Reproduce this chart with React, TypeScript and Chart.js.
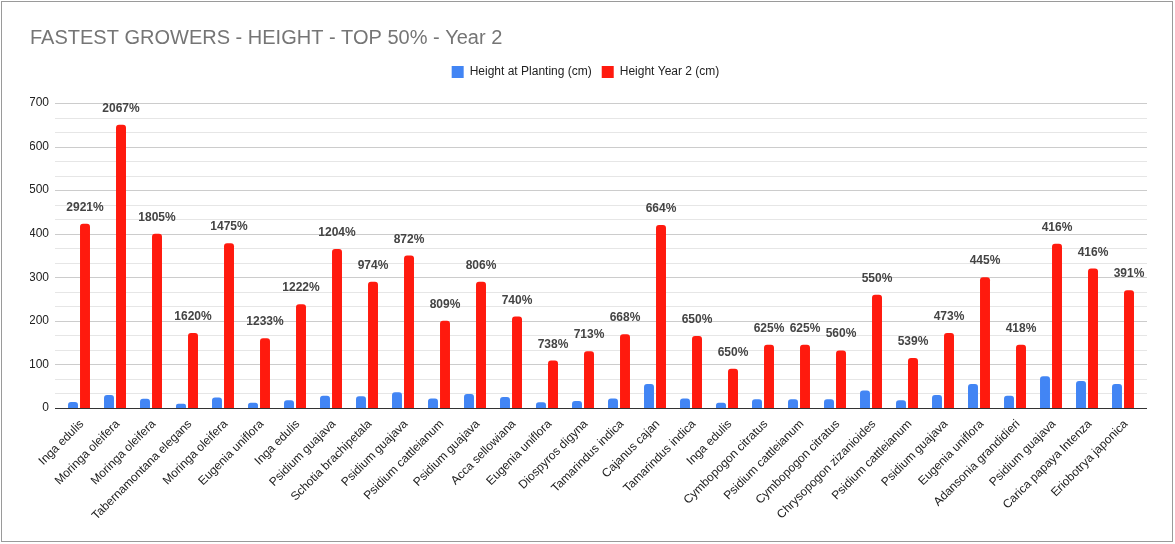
import React, { useEffect, useRef } from "react";
import { Chart, registerables } from "chart.js";

Chart.register(...registerables);

const TITLE = "FASTEST GROWERS - HEIGHT - TOP 50% - Year 2";
const SERIES_NAMES = ["Height at Planting (cm)", "Height Year 2 (cm)"];

const categories = [
  "Inga edulis", "Moringa oleifera", "Moringa oleifera", "Tabernamontana elegans", "Moringa oleifera",
  "Eugenia uniflora", "Inga edulis", "Psidium guajava", "Schotia brachipetala", "Psidium guajava",
  "Psidium cattleianum", "Psidium guajava", "Acca sellowiana", "Eugenia uniflora", "Diospyros digyna",
  "Tamarindus indica", "Cajanus cajan", "Tamarindus indica", "Inga edulis", "Cymbopogon citratus",
  "Psidium cattleianum", "Cymbopogon citratus", "Chrysopogon zizanioides", "Psidium cattleianum", "Psidium guajava",
  "Eugenia uniflora", "Adansonia grandidieri", "Psidium guajava", "Carica papaya Intenza", "Eriobotrya japonica",
];

const heightAtPlanting = [
  14, 30, 21, 10, 24, 12, 18, 28, 27, 36,
  22, 32, 25, 13, 16, 22, 55, 22, 12, 20,
  20, 20, 40, 18, 30, 55, 28, 73, 62, 55,
];

const heightYear2 = [
  423, 650, 400, 172, 378, 160, 238, 365, 290, 350,
  200, 290, 210, 109, 130, 169, 420, 165, 90, 145,
  145, 132, 260, 115, 172, 300, 145, 377, 320, 270,
];

const growthLabels = [
  "2921%", "2067%", "1805%", "1620%", "1475%", "1233%", "1222%", "1204%", "974%", "872%",
  "809%", "806%", "740%", "738%", "713%", "668%", "664%", "650%", "650%", "625%",
  "625%", "560%", "550%", "539%", "473%", "445%", "418%", "416%", "416%", "391%",
];

const yTicks = [0, 100, 200, 300, 400, 500, 600, 700];

const FONT = "'Liberation Sans', Arial, sans-serif";

const gridPlugin = {
  id: "extGrid",
  beforeDatasetsDraw(chart: any) {
    const { ctx, chartArea, scales } = chart;
    const y = scales.y;
    const left = chartArea.left - 6;
    const right = chartArea.right + 6;
    ctx.save();
    const maxV = yTicks[yTicks.length - 1];
    const minorCount = (maxV / 100) * 3;
    for (let k = 1; k <= minorCount; k++) {
      const v = (k * 100) / 3;
      const py = Math.round(y.getPixelForValue(v)) + 0.5;
      ctx.strokeStyle = k % 3 === 0 ? "#cccccc" : "#e6e6e6";
      ctx.lineWidth = 1;
      ctx.beginPath();
      ctx.moveTo(left, py);
      ctx.lineTo(right, py);
      ctx.stroke();
    }
    ctx.restore();
  },
  afterDatasetsDraw(chart: any) {
    const { ctx, chartArea, scales } = chart;
    const py = Math.round(scales.y.getPixelForValue(0)) + 0.5;
    ctx.save();
    ctx.strokeStyle = "#333333";
    ctx.lineWidth = 1;
    ctx.beginPath();
    ctx.moveTo(chartArea.left - 6, py);
    ctx.lineTo(chartArea.right + 6, py);
    ctx.stroke();
    // data labels above red bars
    const meta = chart.getDatasetMeta(1);
    ctx.font = `bold 12px ${FONT}`;
    ctx.fillStyle = "#444444";
    ctx.textAlign = "center";
    ctx.textBaseline = "alphabetic";
    meta.data.forEach((el: any, i: number) => {
      ctx.fillText(growthLabels[i], el.x, el.y - 13);
    });
    ctx.restore();
  },
};

export default function App() {
  const ref = useRef<HTMLCanvasElement | null>(null);

  useEffect(() => {
    document.body.style.margin = "0";
    const canvas = ref.current;
    if (!canvas) return;
    const chart = new Chart(canvas, {
      type: "bar",
      data: {
        labels: categories,
        datasets: [
          {
            label: SERIES_NAMES[0],
            data: heightAtPlanting,
            backgroundColor: "#4285F4",
            borderRadius: 3,
            borderSkipped: "start",
            categoryPercentage: 0.667,
            barPercentage: 0.83,
          },
          {
            label: SERIES_NAMES[1],
            data: heightYear2,
            backgroundColor: "#FF1A0E",
            borderRadius: 3,
            borderSkipped: "start",
            categoryPercentage: 0.667,
            barPercentage: 0.83,
          },
        ],
      },
      options: {
        animation: false,
        responsive: false,
        maintainAspectRatio: false,
        layout: { padding: { left: 30, right: 34, top: 0, bottom: 0 } },
        plugins: {
          title: {
            display: true,
            text: TITLE,
            align: "start",
            color: "#757575",
            font: { family: FONT, size: 20, weight: "normal" },
            padding: { top: 26, bottom: 6 },
          },
          subtitle: {
            display: true,
            text: " ",
            font: { family: FONT, size: 10 },
            padding: { top: 3, bottom: 0 },
            position: "top",
          },
          legend: {
            display: true,
            position: "top",
            align: "center",
            labels: {
              boxWidth: 12,
              boxHeight: 12,
              padding: 10,
              color: "#222222",
              font: { family: FONT, size: 12 },
            },
          },
          tooltip: { enabled: false },
        },
        scales: {
          x: {
            grid: { display: false, drawTicks: false, tickLength: 0 },
            border: { display: false },
            ticks: {
              autoSkip: false,
              maxRotation: 45,
              minRotation: 45,
              color: "#222222",
              padding: 9,
              labelOffset: 3,
              font: { family: FONT, size: 12 },
            },
            afterFit: (scale: any) => {
              scale.height = 136;
            },
          },
          y: {
            min: 0,
            max: 700,
            grid: { display: false, drawTicks: false },
            border: { display: false },
            ticks: {
              stepSize: 100,
              padding: 12,
              color: "#222222",
              font: { family: FONT, size: 12 },
            },
            afterFit: (scale: any) => {
              scale.width = 31;
            },
          },
        },
      },
      plugins: [gridPlugin],
    });
    (chart.options.plugins as any).subtitle.weight = 500;
    chart.update();
    return () => chart.destroy();
  }, []);

  return (
    <div style={{ position: "relative", width: 1175, height: 544, background: "#fff", overflow: "hidden" }}>
      <canvas ref={ref} width={1175} height={544} style={{ position: "absolute", left: 0, top: 0, width: 1175, height: 544 }} />
      <div
        style={{
          position: "absolute",
          left: 1,
          top: 1,
          width: 1172,
          height: 541,
          boxSizing: "border-box",
          border: "1px solid #9a9a9a",
          pointerEvents: "none",
        }}
      />
    </div>
  );
}
